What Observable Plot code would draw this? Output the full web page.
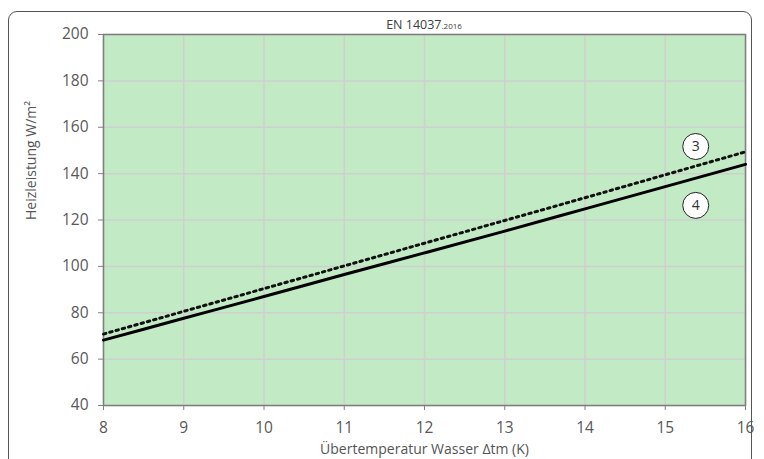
<!DOCTYPE html>
<html>
<head>
<meta charset="utf-8">
<script src="https://cdn.jsdelivr.net/npm/d3@7"></script>
<script src="https://cdn.jsdelivr.net/npm/@observablehq/plot@0.6"></script>
<style>
  html, body { margin: 0; padding: 0; background: #fff; }
  #wrap { position: relative; width: 764px; height: 459px; overflow: hidden; font-family: "Open Sans", sans-serif; }
  #box { position: absolute; left: 8px; top: 11px; width: 742px; height: 470px; border: 1.5px solid #555; border-radius: 9px; pointer-events: none; }
  #title { position: absolute; left: 0; width: 848px; top: 16px; text-align: center; font-size: 12.5px; color: #404040; }
  #title small { font-size: 8px; }
</style>
</head>
<body>
<div id="wrap"><div id="title">EN 14037<small>.2016</small></div></div>
<script>
const xValues = [8, 9, 10, 11, 12, 13, 14, 15, 16];
const series4 = [68.2, 77.6, 87.0, 96.5, 105.8, 115.2, 124.8, 134.4, 144.0];
const series3 = [70.8, 80.6, 90.4, 100.2, 110.0, 119.8, 129.6, 139.5, 149.4];
const labelNames = ["3", "4"];
const labelX = [15.38, 15.38];
const labelY = [151.7, 126.3];
const xTicks = [8, 9, 10, 11, 12, 13, 14, 15, 16];
const yTicks = [40, 60, 80, 100, 120, 140, 160, 180, 200];

const d4 = xValues.map((x, i) => ({x, y: series4[i]}));
const d3s = xValues.map((x, i) => ({x, y: series3[i]}));
const labels = labelNames.map((n, i) => ({n, x: labelX[i], y: labelY[i]}));

const chart = Plot.plot({
  width: 764,
  height: 459,
  marginLeft: 103,
  marginRight: 19,
  marginTop: 34,
  marginBottom: 54,
  style: { fontFamily: "Open Sans, sans-serif", fontSize: "14px", color: "#595959", background: "transparent" },
  x: { domain: [8, 16], ticks: xTicks, label: null },
  y: { domain: [40, 200], ticks: yTicks, label: null },
  marks: [
    Plot.frame({ fill: "#c2eac4", stroke: null }),
    Plot.gridX(xTicks, { stroke: "#cfcfcf", strokeOpacity: 1, strokeWidth: 1.5 }),
    Plot.gridY(yTicks, { stroke: "#cfcfcf", strokeOpacity: 1, strokeWidth: 1.5 }),
    Plot.frame({ stroke: "#7f7f7f", strokeWidth: 1.5 }),
    Plot.axisX(xTicks, { tickSize: 5, tickPadding: 11, stroke: "#7f7f7f", fill: "#595959" }),
    Plot.axisY(yTicks, { tickSize: 5, tickPadding: 10, stroke: "#7f7f7f", fill: "#595959" }),
    Plot.text(["Übertemperatur Wasser Δtm (K)"], { frameAnchor: "bottom", dy: 48, fontSize: 14, fill: "#555" }),
    Plot.text(["Heizleistung W/m²"], { frameAnchor: "left", dx: -72, rotate: -90, fontSize: 14, fill: "#555" }),
    Plot.line(d3s, { x: "x", y: "y", stroke: "#111", strokeWidth: 3, strokeDasharray: "2.5 4", curve: "monotone-x" }),
    Plot.line(d4, { x: "x", y: "y", stroke: "#000", strokeWidth: 3, curve: "monotone-x" }),
    Plot.dot(labels, { x: "x", y: "y", r: 13, fill: "white", stroke: "#222", strokeWidth: 1 }),
    Plot.text(labels, { x: "x", y: "y", text: "n", fontSize: 14, fill: "#333" })
  ]
});
chart.querySelectorAll('g[aria-label$="tick label"]').forEach(g => {
  g.setAttribute("font-size", "15.5");
  g.querySelectorAll("text").forEach(t => t.setAttribute("font-size", "15.5"));
});
const wrap = document.getElementById("wrap");
wrap.insertBefore(chart, wrap.firstChild);
chart.style.position = "absolute";
chart.style.left = "0";
chart.style.top = "0";
const box = document.createElement("div");
box.id = "box";
wrap.appendChild(box);
</script>
</body>
</html>
